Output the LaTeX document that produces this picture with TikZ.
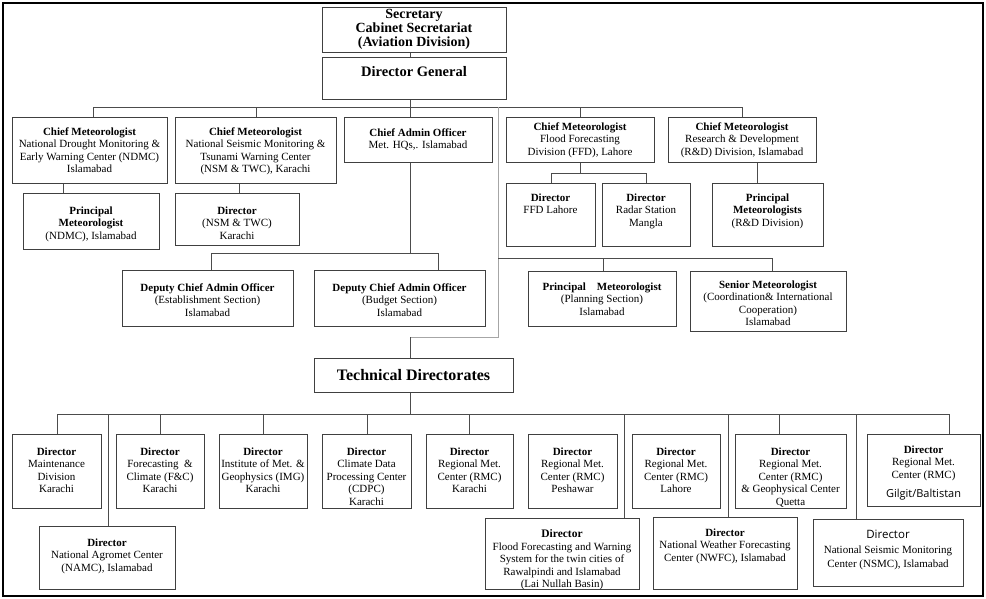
\documentclass[tikz,border=0pt]{standalone}
\usepackage{fontspec}
\setmainfont{Liberation Serif}
\newfontfamily\sansf{Open Sans}
\usetikzlibrary{fit}
\tikzset{
  boxst/.style={draw=black!75, line width=1pt, inner sep=0pt},
  txt/.style={align=center, font=\fontsize{11}{12.5}\selectfont, inner sep=0pt, anchor=north},
  conn/.style={draw=black!70, line width=0.9pt},
  gconn/.style={draw=black!35, line width=0.9pt},
}
\newcommand\obox[7]{%
  \node[boxst, fit={(#2,#3) (#4,#5)}] (#1) {};
  \node[txt] (#1t) at ({(#2+#4)/2},#6) {#7};}
\begin{document}
\begin{tikzpicture}[x=1pt,y=-1pt]
\useasboundingbox (0,0) rectangle (986,598);
\node[draw=black, line width=1.2pt, inner sep=0pt, fit={(3,3) (983,596)}] (frame) {};

% top
\node[boxst, fit={(322,7) (506,52)}] (sec) {};
\node[txt, anchor=center, font=\fontsize{14}{14}\selectfont\bfseries] (sect) at (414,29.5)
  {Secretary\\Cabinet Secretariat\\(Aviation Division)};
\node[boxst, fit={(322,57) (506,99)}] (dg) {};
\node[txt, font=\fontsize{14.5}{15}\selectfont\bfseries] (dgt) at (414,66) {Director General};

% row 1
\obox{ndmc}{12}{117}{167}{183}{127.5}{\textbf{Chief Meteorologist}\\National Drought Monitoring \&\\Early Warning Center (NDMC)\\Islamabad}
\obox{nsm}{175}{117}{336}{183}{127.5}{\textbf{Chief Meteorologist}\\National Seismic Monitoring \&\\Tsunami Warning Center\\(NSM \& TWC), Karachi}
\obox{cao}{344}{117}{492}{162}{128.5}{\textbf{Chief Admin Officer}\\Met. HQs,. Islamabad}
\obox{ffd}{506}{117}{654}{162}{122.5}{\textbf{Chief Meteorologist}\\Flood Forecasting\\Division (FFD), Lahore}
\obox{rnd}{668}{117}{816}{162}{122.5}{\textbf{Chief Meteorologist}\\Research \& Development\\(R\&D) Division, Islamabad}

% row 2
\obox{pmn}{23}{193}{159}{249}{206.5}{\textbf{Principal}\\\textbf{Meteorologist}\\(NDMC), Islamabad}
\obox{dnsm}{175}{193}{299}{245}{206.5}{\textbf{Director}\\(NSM \& TWC)\\Karachi}
\obox{dffd}{506}{183}{595}{246}{193.5}{\textbf{Director}\\FFD Lahore}
\obox{drs}{602}{183}{690}{246}{193.5}{\textbf{Director}\\Radar Station\\Mangla}
\obox{pmrd}{712}{183}{823}{246}{193.5}{\textbf{Principal}\\\textbf{Meteorologists}\\(R\&D Division)}

% row 3
\obox{dce}{122}{270}{293}{326}{283.5}{\textbf{Deputy Chief Admin Officer}\\(Establishment Section)\\Islamabad}
\obox{dcb}{314}{270}{485}{326}{283.5}{\textbf{Deputy Chief Admin Officer}\\(Budget Section)\\Islamabad}
\obox{pmp}{528}{271}{676}{326}{282.5}{\textbf{Principal\quad Meteorologist}\\(Planning Section)\\Islamabad}
\obox{sm}{690}{271}{846}{331}{280.5}{\textbf{Senior Meteorologist}\\(Coordination\& International\\Cooperation)\\Islamabad}

% technical directorates
\node[boxst, fit={(314,358) (513,392)}] (td) {};
\node[txt, anchor=center, font=\fontsize{16}{16}\selectfont\bfseries] (tdt) at (413.5,375.5) {Technical Directorates};

% row 4
\obox{m1}{12}{434}{101}{508}{447.5}{\textbf{Director}\\Maintenance\\Division\\Karachi}
\obox{m2}{116}{434}{204}{508}{447.5}{\textbf{Director}\\Forecasting\ \ \&\\Climate (F\&C)\\Karachi}
\obox{m3}{219}{434}{307}{508}{447.5}{\textbf{Director}\\Institute of Met. \&\\Geophysics (IMG)\\Karachi}
\obox{m4}{322}{434}{411}{508}{447.5}{\textbf{Director}\\Climate Data\\Processing Center\\(CDPC)\\Karachi}
\obox{m5}{426}{434}{513}{508}{447.5}{\textbf{Director}\\Regional Met.\\Center (RMC)\\Karachi}
\obox{m6}{528}{434}{617}{508}{447.5}{\textbf{Director}\\Regional Met.\\Center (RMC)\\Peshawar}
\obox{m7}{632}{434}{720}{508}{447.5}{\textbf{Director}\\Regional Met.\\Center (RMC)\\Lahore}
\obox{m8}{735}{434}{846}{508}{447.5}{\textbf{Director}\\Regional Met.\\Center (RMC)\\\& Geophysical Center\\Quetta}
\obox{m9}{867}{434}{980}{506}{445.5}{\textbf{Director}\\Regional Met.\\Center (RMC)\\[7pt]{\sansf\fontsize{11}{13}\selectfont Gilgit/Baltistan}}

% row 5
\obox{namc}{39}{526}{175}{589}{538.5}{\textbf{Director}\\National Agromet Center\\(NAMC), Islamabad}
\obox{ffws}{485}{518}{639}{589}{529.5}{\fontsize{11.5}{12.3}\selectfont\textbf{Director}\\Flood Forecasting and Warning\\System for the twin cities of\\Rawalpindi and Islamabad\\(Lai Nullah Basin)}
\obox{nwfc}{653}{517}{797}{589}{528.5}{\textbf{Director}\\National Weather Forecasting\\Center (NWFC), Islamabad}
\obox{nsmc}{813}{519}{963}{586}{529.5}{{\sansf\fontsize{11.5}{13}\selectfont Director}\\[3pt]National Seismic Monitoring\\[1pt]Center (NSMC), Islamabad}

% connectors, top
\coordinate (busL) at (93,107);
\coordinate (busR) at (742,107);
\coordinate (busA) at (410,107);
\coordinate (b256) at (256,107);
\coordinate (b580) at (580,107);
\draw[conn] (sec.south -| busA) -- (dg.north -| busA);
\draw[conn] (dg.south -| busA) -- (cao.north -| busA);
\draw[conn] (busL) -- (busR);
\draw[conn] (busL) -- (ndmc.north -| busL);
\draw[conn] (b256) -- (nsm.north -| b256);
\draw[conn] (b580) -- (ffd.north -| b580);
\draw[conn] (busR) -- (rnd.north -| busR);

% gray line to technical directorates
\coordinate (g1) at (498,107);
\coordinate (g2) at (498,337);
\draw[gconn] (g1) -- (g2) -- (g2 -| busA);
\draw[conn] (g2 -| busA) -- (td.north -| busA);

% planning bus
\coordinate (p1) at (498,258);
\coordinate (p2) at (772,258);
\coordinate (p603) at (603,258);
\draw[conn] (p1) -- (p2) -- (sm.north -| p2);
\draw[conn] (p603) -- (pmp.north -| p603);

% row1 -> row2
\coordinate (c63) at (63,188);
\coordinate (c239) at (239,188);
\coordinate (c757) at (757,170);
\draw[conn] (ndmc.south -| c63) -- (pmn.north -| c63);
\draw[conn] (nsm.south -| c239) -- (dnsm.north -| c239);
\draw[conn] (rnd.south -| c757) -- (pmrd.north -| c757);
\coordinate (f1) at (551,173);
\coordinate (f2) at (646,173);
\draw[conn] (ffd.south -| b580) -- (b580 |- f1);
\draw[conn] (dffd.north -| f1) -- (f1) -- (f2) -- (drs.north -| f2);

% admin
\coordinate (d1) at (211,253);
\coordinate (d2) at (438,253);
\draw[conn] (cao.south -| busA) -- (busA |- d1);
\draw[conn] (dce.north -| d1) -- (d1) -- (d2) -- (dcb.north -| d2);

% technical directorates bus
\coordinate (t1) at (57,414);
\coordinate (t2) at (949,414);
\draw[conn] (td.south -| busA) -- (busA |- t1);
\draw[conn] (t1) -- (t2);
\foreach \n/\x in {m1/57, m2/160, m3/263, m4/367, m5/469, m8/779, m9/949, namc/108, ffws/624, nwfc/728, nsmc/856}{
  \coordinate (tmp) at (\x,414);
  \draw[conn] (tmp) -- (\n.north -| tmp);
}
\end{tikzpicture}
\end{document}
